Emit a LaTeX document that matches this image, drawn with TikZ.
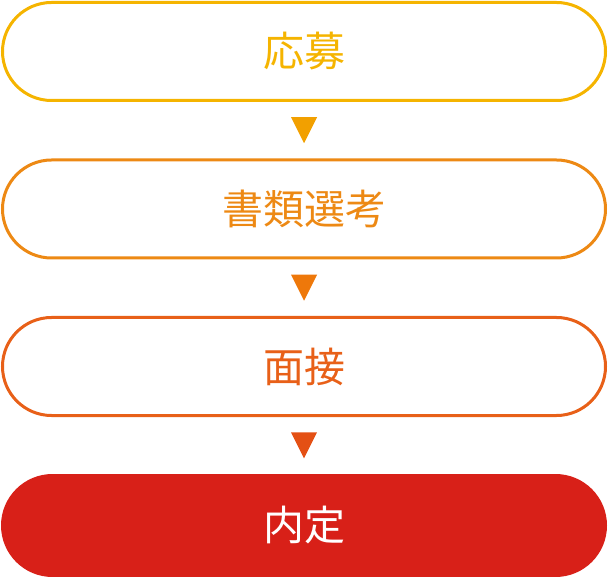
\documentclass[tikz,border=0pt]{standalone}
\usepackage{fontspec}
\newfontfamily\jpfont{Noto Sans CJK JP}
\usetikzlibrary{calc}

\definecolor{stepA}{RGB}{245,180,0}
\definecolor{stepB}{RGB}{237,137,20}
\definecolor{stepC}{RGB}{232,96,24}
\definecolor{stepD}{RGB}{216,32,24}
\definecolor{triA}{RGB}{242,160,0}
\definecolor{triB}{RGB}{238,120,10}
\definecolor{triC}{RGB}{228,80,20}

\begin{document}
\begin{tikzpicture}[x=1pt,y=-1pt]
		\useasboundingbox (0,0) rectangle (608,577);
		\foreach \i/\y/\c/\t in {1/51.5/stepA/応募, 2/209/stepB/書類選考, 3/366.5/stepC/面接}
			\node[draw=\c, line width=3pt, rounded corners=49pt, minimum width=603pt, minimum height=98pt, text=\c, font=\jpfont\fontsize{41}{48}\selectfont] (s\i) at (304,\y) {\t};
		\node[fill=stepD, rounded corners=51.5pt, minimum width=606pt, minimum height=103pt, text=white, font=\jpfont\fontsize{41}{48}\selectfont] (s4) at (304,525.5) {内定};

		\foreach \a/\b/\c in {1/2/triA, 2/3/triB, 3/4/triC}
			\fill[\c] ($(s\a.south)!0.5!(s\b.north)$) ++(-13,-13) -- ++(26,0) -- ++(-13,26) -- cycle;
	\end{tikzpicture}
\end{document}
